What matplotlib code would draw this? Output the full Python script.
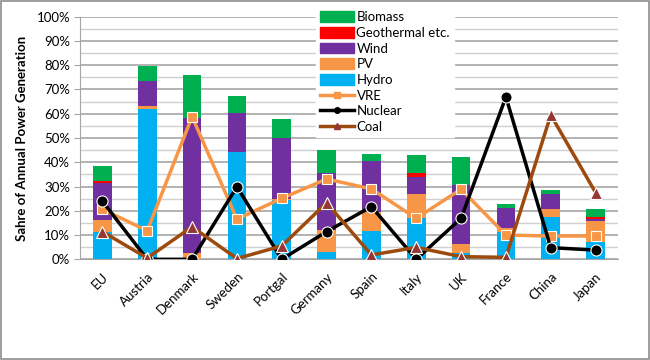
import matplotlib.pyplot as plt
import numpy as np
from matplotlib.lines import Line2D
from matplotlib.patches import Patch, Rectangle

plt.rcParams["font.family"] = ["Lato", "DejaVu Sans"]

countries = ["EU", "Austria", "Denmark", "Sweden", "Portgal", "Germany",
             "Spain", "Italy", "UK", "France", "China", "Japan"]

# shares in percent, stacked bottom to top
hydro = [11.4, 61.8, 0.0, 44.4, 24.5, 3.0, 11.8, 16.9, 2.5, 11.3, 17.6, 7.3]
pv = [4.8, 1.4, 2.7, 0.0, 0.3, 9.0, 7.8, 9.9, 3.7, 1.5, 3.0, 8.6]
wind = [15.4, 10.3, 55.4, 16.0, 25.0, 23.6, 21.0, 7.0, 24.4, 8.3, 6.3, 0.7]
geothermal = [0.7, 0.0, 0.0, 0.0, 0.0, 0.0, 0.0, 1.9, 0.0, 0.0, 0.0, 0.7]
biomass = [6.3, 6.3, 17.7, 7.0, 8.0, 9.4, 2.8, 7.3, 11.7, 1.8, 1.5, 3.3]

vre = [20.6, 11.8, 58.8, 16.6, 25.1, 33.1, 29.0, 16.9, 28.9, 10.0, 9.6, 9.6]
nuclear = [23.9, 0.0, 0.0, 29.9, 0.0, 11.4, 21.7, 0.0, 16.9, 66.9, 4.8, 3.8]
coal = [11.4, 0.5, 13.4, 0.3, 5.5, 23.3, 1.8, 4.9, 1.1, 0.8, 59.5, 27.5]

STACK = [
    ("Hydro", hydro, "#00B0F0"),
    ("PV", pv, "#F79646"),
    ("Wind", wind, "#7030A0"),
    ("Geothermal etc.", geothermal, "#FF0000"),
    ("Biomass", biomass, "#00B050"),
]
LINES = [
    ("VRE", vre, "#F79646", "s", "#F79646", 7),
    ("Nuclear", nuclear, "#000000", "o", "#000000", 8),
    ("Coal", coal, "#9C4A0D", "^", "#953735", 8.5),
]

fig = plt.figure(figsize=(6.5, 3.6), dpi=100)
ax = fig.add_axes([80 / 650, 1 - 259.3 / 360, 538 / 650, 242.6 / 360])

x = np.arange(len(countries))
bottom = np.zeros(len(countries))
for name, vals, color in STACK:
    ax.bar(x, vals, 0.42, bottom=bottom, color=color, zorder=2)
    bottom += np.array(vals)

for i, (name, vals, color, marker, mcolor, ms) in enumerate(LINES):
    ax.plot(x, vals, color=color, lw=2.5, marker=marker, ms=ms,
            markerfacecolor=mcolor, markeredgecolor="white", markeredgewidth=0.8,
            zorder=3 + i)

ax.set_xlim(-0.5, len(countries) - 0.5)
ax.set_ylim(0, 100)
ax.set_yticks(np.arange(0, 101, 10))
ax.set_yticklabels([f"{v}%" for v in range(0, 101, 10)], fontsize=9.5)
ax.set_yticks(np.arange(5, 100, 10), minor=True)
ax.grid(axis="y", which="major", color="#A6A6A6", lw=1.2, zorder=0)
ax.grid(axis="y", which="minor", color="#D0D0D0", lw=1.0, zorder=0)
ax.set_xticks(x)
ax.set_xticklabels(countries, rotation=45, ha="right", va="top",
                   rotation_mode="anchor", fontsize=9.5)
ax.tick_params(axis="x", length=0, pad=8)
ax.tick_params(axis="y", which="major", length=4, color="#A6A6A6", pad=3)
ax.tick_params(axis="y", which="minor", length=0)
for side in ("top", "right"):
    ax.spines[side].set_visible(False)
for side in ("left", "bottom"):
    ax.spines[side].set_color("#A6A6A6")
ax.set_ylabel("Sahre of Annual Power Generation", fontsize=9.5,
              fontweight="bold", labelpad=6)

handles = [Patch(color=c, label=n) for n, _, c in STACK[::-1]]
handles += [Line2D([0], [0], color=c, lw=2.5, marker=m, ms=4, markerfacecolor=mc,
                   markeredgecolor=mc, label=n)
            for n, _, c, m, mc, _ in LINES]
leg = fig.legend(handles=handles, loc="upper left",
                 bbox_to_anchor=(309 / 650, 1 - 0.5 / 360), frameon=True,
                 fancybox=False, edgecolor="white", framealpha=1,
                 fontsize=9.5, handlelength=2.6, handleheight=0.9,
                 labelspacing=0.28, handletextpad=0.2, borderpad=0.3)
leg.set_zorder(10)

fig.patches.append(Rectangle((0.002, 0.003), 0.996, 0.994, transform=fig.transFigure,
                             fill=False, edgecolor="#8C8C8C", lw=1.2))

fig.savefig("out.png", dpi=100)
